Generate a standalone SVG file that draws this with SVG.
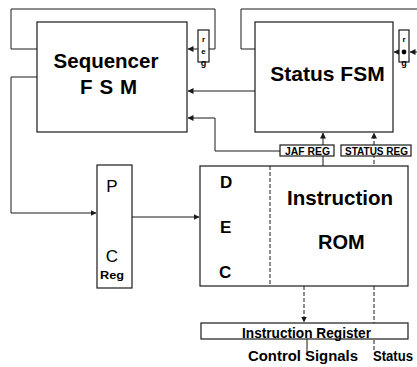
<svg xmlns="http://www.w3.org/2000/svg" width="417" height="367" viewBox="0 0 417 367">
<style>
.box{fill:#fff;stroke:#1a1a1a;stroke-width:1.2}
.ln{fill:none;stroke:#1a1a1a;stroke-width:1}
.dash{fill:none;stroke:#1a1a1a;stroke-width:1;stroke-dasharray:4 2}
.big{font-family:"Liberation Sans",Arial,sans-serif;font-weight:bold;fill:#000}
.reg{font-family:"Liberation Sans",Arial,sans-serif;font-weight:bold;fill:#000}
.pl{font-family:"Liberation Sans",Arial,sans-serif;fill:#000}
</style>
<defs>
<marker id="ah" markerWidth="6" markerHeight="6" refX="5.5" refY="3" orient="auto" markerUnits="userSpaceOnUse">
<path d="M0,0 L6,3 L0,6 Z" fill="#1a1a1a"/>
</marker>
</defs>
<rect width="417" height="367" fill="#fff"/>

<g id="connectors">
<polyline class="ln" points="209,49 215,49 215,9 11,9 11,49 37,49"/>
<line class="ln" x1="198" y1="49" x2="188" y2="49" marker-end="url(#ah)"/>
<polyline class="ln" points="255,49 241,49 241,9 417,9"/>
<line class="ln" x1="399" y1="52" x2="394" y2="52" marker-end="url(#ah)"/>
<line class="ln" x1="417" y1="52" x2="410" y2="52" marker-end="url(#ah)"/>
<line class="ln" x1="255" y1="91" x2="188" y2="91" marker-end="url(#ah)"/>
<polyline class="ln" points="280,151 215,151 215,118 188,118" marker-end="url(#ah)"/>
<polyline class="ln" points="37,77 11,77 11,213 96,213" marker-end="url(#ah)"/>
<line class="ln" x1="132" y1="217" x2="199" y2="217" marker-end="url(#ah)"/>
<line class="ln" x1="323" y1="166" x2="323" y2="156"/>
<line class="ln" x1="323" y1="145" x2="323" y2="133" marker-end="url(#ah)"/>
<line class="dash" x1="374" y1="350" x2="374" y2="156"/>
<line class="dash" x1="374" y1="145" x2="374" y2="133" marker-end="url(#ah)"/>
<line class="dash" x1="304" y1="286" x2="304" y2="322" marker-end="url(#ah)"/>
<line class="ln" x1="307" y1="339" x2="307" y2="352"/>
</g>

<g id="sequencer">
<rect class="box" x="37" y="22" width="150" height="110"/>
<text class="big" x="106" y="68" font-size="20.5" text-anchor="middle">Sequencer</text>
<text class="big" x="108.5" y="94" font-size="20.5" text-anchor="middle" textLength="57" xml:space="preserve">F S M</text>
</g>

<g id="seq-reg">
<rect class="box" x="198" y="30" width="11" height="32"/>
<text class="reg" x="203.5" y="42" font-size="8" text-anchor="middle">r</text>
<text class="reg" x="203.5" y="54" font-size="8" text-anchor="middle">e</text>
<text class="reg" x="203.5" y="66" font-size="9" text-anchor="middle">g</text>
</g>

<g id="status-fsm">
<rect class="box" x="255" y="22" width="138" height="110"/>
<text class="big" x="327.5" y="81" font-size="21" text-anchor="middle">Status FSM</text>
</g>

<g id="status-reg-small">
<rect class="box" x="399" y="30" width="10" height="32"/>
<text class="reg" x="404" y="42" font-size="8" text-anchor="middle">r</text>
<circle cx="404" cy="52" r="2.4" fill="#000"/>
<text class="reg" x="404" y="66" font-size="9" text-anchor="middle">g</text>
</g>

<g id="jaf-reg">
<rect class="box" x="280" y="145" width="54" height="11"/>
<text class="reg" x="285" y="154.5" font-size="10.5" textLength="45" lengthAdjust="spacingAndGlyphs">JAF REG</text>
</g>

<g id="status-reg">
<rect class="box" x="341" y="145" width="70" height="11"/>
<text class="reg" x="345" y="154.5" font-size="10.5" textLength="63" lengthAdjust="spacingAndGlyphs">STATUS REG</text>
</g>

<g id="pc">
<rect class="box" x="97" y="165" width="35" height="123"/>
<text class="pl" x="112" y="192" font-size="17" text-anchor="middle">P</text>
<text class="pl" x="112" y="262" font-size="17" text-anchor="middle">C</text>
<text class="reg" x="100" y="279" font-size="11" textLength="24" lengthAdjust="spacingAndGlyphs">Reg</text>
</g>

<g id="rom">
<rect class="box" x="200" y="166" width="208" height="120"/>
<line class="dash" x1="270" y1="166" x2="270" y2="286"/>
<text class="big" x="220" y="188" font-size="17">D</text>
<text class="big" x="220" y="233" font-size="17">E</text>
<text class="big" x="219" y="278" font-size="17">C</text>
<text class="big" x="287" y="205" font-size="20.5" textLength="106" lengthAdjust="spacingAndGlyphs">Instruction</text>
<text class="big" x="318" y="249" font-size="20">ROM</text>
</g>

<g id="ir">
<rect class="box" x="201" y="323" width="207" height="16"/>
<text class="big" x="242" y="338" font-size="14" textLength="129" lengthAdjust="spacingAndGlyphs">Instruction Register</text>
</g>

<g id="labels">
<text class="big" x="248" y="361" font-size="14" textLength="110" lengthAdjust="spacingAndGlyphs">Control Signals</text>
<text class="big" x="373" y="361" font-size="14" textLength="40" lengthAdjust="spacingAndGlyphs">Status</text>
</g>
</svg>
